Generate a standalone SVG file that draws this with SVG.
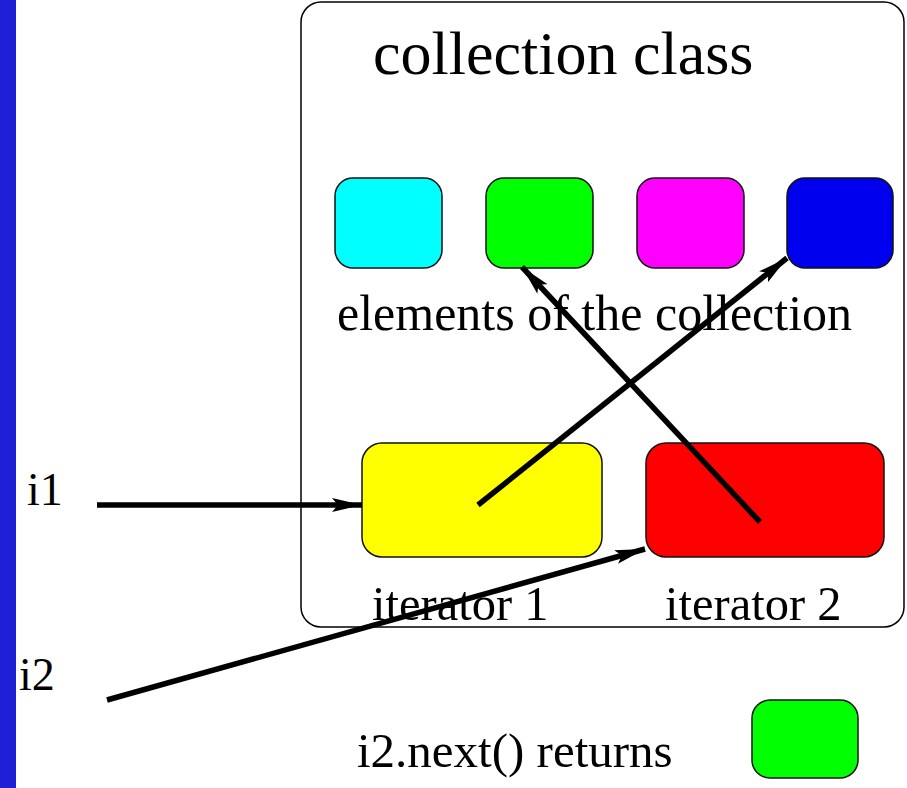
<svg xmlns="http://www.w3.org/2000/svg" width="907" height="788" viewBox="0 0 907 788">
<style>
.t{font-family:"Liberation Serif","Times New Roman",serif;fill:#000}
.n{stroke:#111;stroke-width:1.5}
.c{stroke:#000;stroke-width:5.5;fill:none;marker-end:url(#ah)}
</style>
<defs>
<marker id="ah" markerUnits="userSpaceOnUse" markerWidth="32" markerHeight="16" refX="30" refY="8" orient="auto">
<path d="M0,1 L30,8 L0,15 L6,8 Z" fill="#000"/>
</marker>
</defs>
<rect x="0" y="0" width="907" height="788" fill="#fff"/>
<rect x="0" y="0" width="16" height="788" fill="#1f1fd6"/>
<g id="collection">
<rect x="301" y="2" width="603" height="625" rx="20" fill="none" stroke="#000" stroke-width="1.5"/>
<text class="t" x="373" y="74" font-size="62">collection class</text>
<text class="t" x="337" y="330" font-size="50">elements of the collection</text>
</g>
<g id="e1"><rect class="n" x="335" y="178" width="107" height="90" rx="18" fill="#00ffff"/></g>
<g id="e2"><rect class="n" x="486" y="178" width="107" height="90" rx="18" fill="#00ff00"/></g>
<g id="e3"><rect class="n" x="637" y="178" width="107" height="90" rx="18" fill="#ff00ff"/></g>
<g id="e4"><rect class="n" x="787" y="178" width="106" height="90" rx="18" fill="#0000ee"/></g>
<g id="it1"><rect class="n" x="362" y="443" width="240" height="114" rx="20" fill="#ffff00"/><text class="t" x="372" y="620" font-size="48.5">iterator 1</text></g>
<g id="it2"><rect class="n" x="646" y="443" width="238" height="114" rx="20" fill="#ff0000"/><text class="t" x="665" y="620" font-size="48.5">iterator 2</text></g>
<g id="i1"><text class="t" x="27" y="505" font-size="46">i1</text></g>
<g id="i2"><text class="t" x="19" y="690" font-size="46">i2</text></g>
<g id="result"><text class="t" x="357" y="767" font-size="49">i2.next() returns</text><rect class="n" x="752" y="700" width="106" height="78" rx="18" fill="#00ff00"/></g>
<g id="connectors">
<line class="c" x1="97" y1="505" x2="362" y2="505"/>
<line class="c" x1="107" y1="700" x2="645" y2="549"/>
<line class="c" x1="478" y1="505" x2="787" y2="258"/>
<line class="c" x1="760" y1="522" x2="522" y2="267"/>
</g>
</svg>
